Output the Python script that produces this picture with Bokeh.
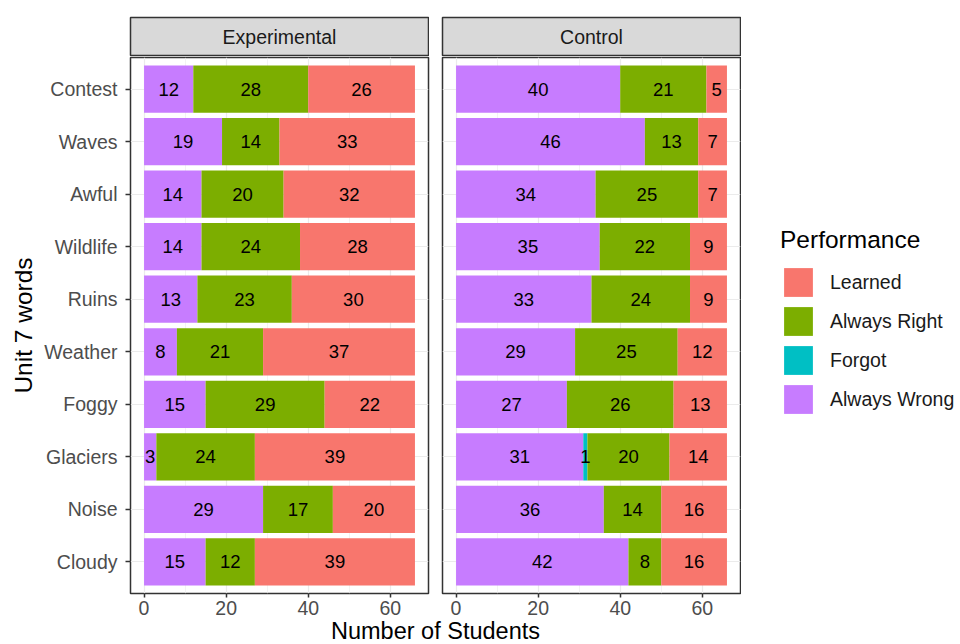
from bokeh.plotting import figure
from bokeh.models import (FactorRange, Range1d, FixedTicker, Legend, LegendItem,
                          ColumnDataSource, Spacer)
from bokeh.layouts import row, column
from bokeh.embed import file_html
from bokeh.resources import INLINE
from bokeh.core.properties import value

# ---------------- data ----------------
words = ["Contest", "Waves", "Awful", "Wildlife", "Ruins",
         "Weather", "Foggy", "Glaciers", "Noise", "Cloudy"]
groups = ["Experimental", "Control"]
stack_order = ["Always Wrong", "Forgot", "Always Right", "Learned"]
legend_order = ["Learned", "Always Right", "Forgot", "Always Wrong"]
palette = {"Learned": "#F8766D", "Always Right": "#7CAE00",
           "Forgot": "#00BFC4", "Always Wrong": "#C77CFF"}

exp_always_wrong = [12, 19, 14, 14, 13, 8, 15, 3, 29, 15]
exp_forgot = [0, 0, 0, 0, 0, 0, 0, 0, 0, 0]
exp_always_right = [28, 14, 20, 24, 23, 21, 29, 24, 17, 12]
exp_learned = [26, 33, 32, 28, 30, 37, 22, 39, 20, 39]

ctl_always_wrong = [40, 46, 34, 35, 33, 29, 27, 31, 36, 42]
ctl_forgot = [0, 0, 0, 0, 0, 0, 0, 1, 0, 0]
ctl_always_right = [21, 13, 25, 22, 24, 25, 26, 20, 14, 8]
ctl_learned = [5, 7, 7, 9, 9, 12, 13, 14, 16, 16]

x_ticks = [0, 20, 40, 60]
x_minor = [10, 30, 50]
x_title = "Number of Students"
y_title = "Unit 7 words"
legend_title = "Performance"

FONT = "Liberation Sans"
FRAME_W = 298
FRAME_H = 531
MAIN_H = 1 + FRAME_H + 29
XT_H = 644 - 56 - MAIN_H


def make_panel(series, first):
    data = dict(word=words)
    data.update(series)
    src = ColumnDataSource(data)
    kw = dict(y_range=FactorRange(factors=list(reversed(words)), range_padding=0.02),
              x_range=Range1d(-3.3, 69.3),
              output_backend="svg", toolbar_location=None,
              min_border_top=1, min_border_bottom=0, height=MAIN_H,
              background_fill_color="white", border_fill_color="white",
              outline_line_color="#333333", outline_line_width=1.5)
    if first:
        p = figure(width=130 + FRAME_W + 7, min_border_left=130, min_border_right=7, **kw)
    else:
        p = figure(width=7 + FRAME_W + 1, min_border_left=7, min_border_right=1,
                   y_axis_location=None, **kw)
    p.hbar_stack(stack_order, y="word", height=0.9, source=src,
                 fill_color=[palette[k] for k in stack_order], line_color=None)

    # labels at segment centres
    lx, ly, lt = [], [], []
    for i, w in enumerate(words):
        start = 0
        for k in stack_order:
            v = series[k][i]
            if v > 0:
                lx.append(start + v / 2)
                ly.append(w)
                lt.append(str(v))
            start += v
    p.text(x=lx, y=ly, text=lt, text_align="center", text_baseline="middle",
           text_font=value(FONT), text_font_size="18.5px", text_color="black")

    p.xaxis.ticker = FixedTicker(ticks=x_ticks, minor_ticks=x_minor)
    p.xaxis.axis_line_color = None
    p.xaxis.major_tick_out = 4
    p.xaxis.major_tick_in = 0
    p.xaxis.minor_tick_out = 0
    p.xaxis.minor_tick_in = 0
    p.xaxis.major_tick_line_color = "#333333"
    p.xaxis.major_tick_line_width = 1.5
    p.xaxis.major_label_text_color = "#4D4D4D"
    p.xaxis.major_label_text_font = FONT
    p.xaxis.major_label_text_font_size = "19.5px"
    p.xaxis.major_label_standoff = 3

    p.xgrid.grid_line_color = "#EBEBEB"
    p.xgrid.grid_line_width = 1.2
    p.xgrid.minor_grid_line_color = "#EBEBEB"
    p.xgrid.minor_grid_line_width = 0.6
    p.ygrid.grid_line_color = "#EBEBEB"
    p.ygrid.grid_line_width = 1.2

    if first:
        ax = p.yaxis[0]
        ax.axis_line_color = None
        ax.major_tick_out = 5
        ax.major_tick_in = 0
        ax.major_tick_line_color = "#333333"
        ax.major_tick_line_width = 1.5
        ax.major_label_text_color = "#4D4D4D"
        ax.major_label_text_font = FONT
        ax.major_label_text_font_size = "19.5px"
        ax.major_label_standoff = 8
        ax.axis_label = y_title
        ax.axis_label_text_font = FONT
        ax.axis_label_text_font_size = "24.5px"
        ax.axis_label_text_font_style = "normal"
        ax.axis_label_text_color = "black"
        ax.axis_label_standoff = 4
    return p


def make_strip(label):
    s = figure(width=FRAME_W + 2, height=56, x_range=Range1d(0, 1), y_range=Range1d(0, 1),
               x_axis_location=None, y_axis_location=None,
               output_backend="svg", toolbar_location=None,
               min_border_left=1, min_border_right=1, min_border_top=17, min_border_bottom=1,
               background_fill_color="#D9D9D9", border_fill_color="white",
               outline_line_color="#333333", outline_line_width=1.5)
    s.grid.grid_line_color = None
    s.text(x=[0.5], y=[0.5], text=[label], text_align="center", text_baseline="middle",
           text_font=value(FONT), text_font_size="19.5px", text_color="#1A1A1A")
    return s


exp_series = {"Always Wrong": exp_always_wrong, "Forgot": exp_forgot,
              "Always Right": exp_always_right, "Learned": exp_learned}
ctl_series = {"Always Wrong": ctl_always_wrong, "Forgot": ctl_forgot,
              "Always Right": ctl_always_right, "Learned": ctl_learned}

p1 = make_panel(exp_series, True)
p2 = make_panel(ctl_series, False)

# legend panel: hidden copies of the stacked bars provide the legend keys
lf = figure(width=960 - 741, height=MAIN_H,
            y_range=FactorRange(factors=list(reversed(words))), x_range=Range1d(0, 66),
            x_axis_location=None, y_axis_location=None,
            output_backend="svg", toolbar_location=None, min_border=0,
            outline_line_color=None, border_fill_color="white", background_fill_color="white")
lf.grid.grid_line_color = None
lsrc = ColumnDataSource(dict(word=words, **ctl_series))
lrs = lf.hbar_stack(stack_order, y="word", height=0.9, source=lsrc,
                    fill_color=[palette[k] for k in stack_order], line_color=None, visible=False)
key_renderers = dict(zip(stack_order, lrs))

legend = Legend(items=[LegendItem(label=k, renderers=[key_renderers[k]]) for k in legend_order],
                location=(39, 176), title=legend_title,
                glyph_width=36, glyph_height=36, label_standoff=14, spacing=3,
                padding=0, margin=0, border_line_color=None, background_fill_alpha=0,
                label_text_font=FONT, label_text_font_size="19.5px", label_text_color="#1A1A1A",
                title_text_font=FONT, title_text_font_size="24.5px",
                title_text_font_style="normal", title_text_color="black",
                title_standoff=10, click_policy="none")
lf.add_layout(legend)

s1 = make_strip(groups[0])
s2 = make_strip(groups[1])

xt = figure(width=610, height=XT_H, x_range=Range1d(0, 1), y_range=Range1d(0, 1),
            x_axis_location=None, y_axis_location=None,
            output_backend="svg", toolbar_location=None, min_border=0,
            outline_line_color=None, border_fill_color="white", background_fill_color="white")
xt.grid.grid_line_color = None
xt.text(x=[0.5], y=[0.5], text=[x_title], text_align="center", text_baseline="middle",
        text_font=value(FONT), text_font_size="23.5px", text_color="black")

layout = column(
    row(Spacer(width=129, height=56), s1, Spacer(width=12, height=56), s2),
    row(p1, p2, lf),
    row(Spacer(width=130, height=XT_H), xt),
)

open("out.html", "w").write(file_html(layout, INLINE))
